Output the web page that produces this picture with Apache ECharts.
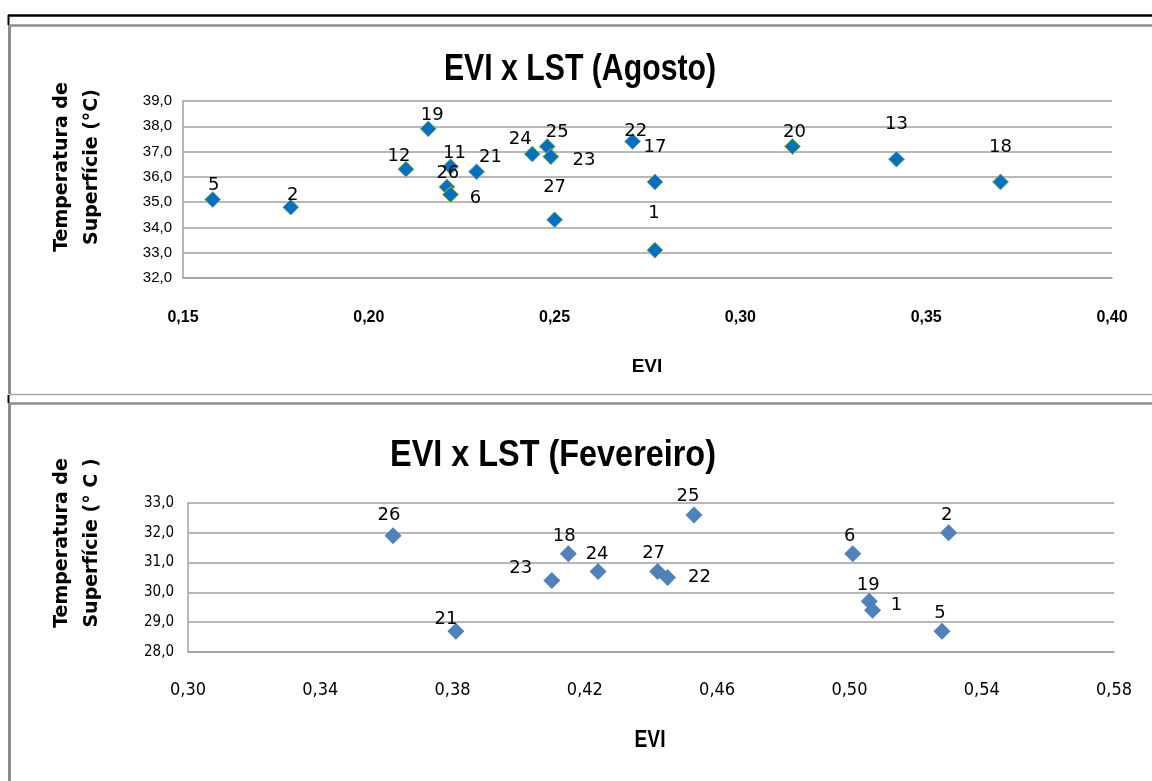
<!DOCTYPE html>
<html>
<head>
<meta charset="utf-8">
<script src="https://cdn.jsdelivr.net/npm/echarts@6/dist/echarts.min.js"></script>
<style>
html,body{margin:0;padding:0;background:#fff;}
#chart{width:1152px;height:781px;}
</style>
</head>
<body>
<div id="chart"></div>
<script>
// ---- Data: August (Agosto) ----
const agoIds = [5, 2, 12, 19, 11, 26, 6, 21, 24, 25, 23, 27, 22, 17, 1, 20, 13, 18];
const agoEvi = [0.158, 0.179, 0.210, 0.216, 0.222, 0.221, 0.222, 0.229, 0.244, 0.248, 0.249, 0.250, 0.271, 0.277, 0.277, 0.314, 0.342, 0.370];
const agoLst = [35.1, 34.8, 36.3, 37.9, 36.4, 35.6, 35.3, 36.2, 36.9, 37.2, 36.8, 34.3, 37.4, 35.8, 33.1, 37.2, 36.7, 35.8];

// ---- Data: February (Fevereiro) ----
const fevIds = [26, 21, 23, 18, 24, 27, 22, 25, 6, 2, 19, 1, 5];
const fevEvi = [0.362, 0.381, 0.410, 0.415, 0.424, 0.442, 0.445, 0.453, 0.501, 0.530, 0.506, 0.507, 0.528];
const fevLst = [31.9, 28.7, 30.4, 31.3, 30.7, 30.7, 30.5, 32.6, 31.3, 32.0, 29.7, 29.4, 28.7];

// ---- Axis tick settings ----
const agoXTicks = {min: 0.15, max: 0.40, interval: 0.05};
const agoYTicks = {min: 32, max: 39, interval: 1};
const fevXTicks = {min: 0.30, max: 0.58, interval: 0.04};
const fevYTicks = {min: 28, max: 33, interval: 1};

// ---- Label placement (style only: pixel offsets of each point's label) ----
const agoLabelOffset = {5:[1,-14],2:[2,-12],12:[-7,-13],19:[4,-13],11:[4,-13],26:[1,-14],6:[25,4],21:[14,-14],
  24:[-12,-15],25:[10,-14],23:[33,4],27:[0,-33],22:[3,-10],17:[0,-35],1:[-1,-37],20:[2,-14],13:[0,-35],18:[0,-35]};
const fevLabelOffset = {26:[-4,-20],21:[-10,-12],23:[-31,-12],18:[-4,-17],24:[-1,-17],27:[-4,-18],22:[32,0],
  25:[-6,-19],6:[-3,-17],2:[-2,-17],19:[-1,-16],1:[24,-5],5:[-2,-18]};

function comma(v, d){ return v.toFixed(d).replace('.', ','); }

function buildData(ids, xs, ys, offsets){
  return ids.map((id, i) => ({
    value: [xs[i], ys[i]],
    name: String(id),
    label: {offset: offsets[id] || [0, -16]}
  }));
}

const gridColor = '#a0a0a0';
const chart = echarts.init(document.getElementById('chart'), null, {renderer: 'canvas'});

function xAxisCfg(gi, t, font){
  return {
    type: 'value', gridIndex: gi, min: t.min, max: t.max, interval: t.interval,
    axisLine: {show: true, onZero: false, lineStyle: {color: gridColor, width: 1.5}},
    axisTick: {show: false},
    splitLine: {show: false},
    axisLabel: Object.assign({margin: 32, color: '#000', formatter: v => comma(v, 2)}, font)
  };
}
function yAxisCfg(gi, t, font){
  return {
    type: 'value', gridIndex: gi, min: t.min, max: t.max, interval: t.interval,
    axisLine: {show: true, lineStyle: {color: gridColor, width: 1.5}},
    axisTick: {show: false},
    splitLine: {show: true, lineStyle: {color: gridColor, width: 1.5}},
    axisLabel: Object.assign({margin: 11, color: '#000', formatter: v => comma(v, 1)}, font)
  };
}

const labelFont = {fontFamily: 'DejaVu Sans', fontSize: 18, color: '#000'};
const condensed = "'DejaVu Sans Condensed', 'Liberation Sans', sans-serif";

const option = {
  animation: false,
  backgroundColor: '#fff',
  grid: [
    {left: 183, top: 101, width: 929, height: 177},
    {left: 188, top: 503, width: 926, height: 149}
  ],
  xAxis: [
    xAxisCfg(0, agoXTicks, {fontFamily: 'Liberation Sans', fontSize: 16, fontWeight: 'bold'}),
    xAxisCfg(1, fevXTicks, {fontFamily: condensed, fontSize: 18, margin: 29})
  ],
  yAxis: [
    yAxisCfg(0, agoYTicks, {fontFamily: 'Liberation Sans', fontSize: 15}),
    yAxisCfg(1, fevYTicks, {fontFamily: condensed, fontSize: 15, margin: 14})
  ],
  series: [
    {
      type: 'scatter', xAxisIndex: 0, yAxisIndex: 0, symbol: 'diamond', symbolSize: 16,
      itemStyle: {color: '#0070c0', borderColor: '#9bbb59', borderWidth: 1, opacity: 1},
      label: Object.assign({show: true, position: 'inside', formatter: p => p.name}, labelFont),
      data: buildData(agoIds, agoEvi, agoLst, agoLabelOffset)
    },
    {
      type: 'scatter', xAxisIndex: 1, yAxisIndex: 1, symbol: 'diamond', symbolSize: 17,
      itemStyle: {color: '#4f81bd', opacity: 1},
      label: Object.assign({show: true, position: 'inside', formatter: p => p.name}, labelFont),
      data: buildData(fevIds, fevEvi, fevLst, fevLabelOffset)
    }
  ],
  graphic: [
    // frame lines
    {type: 'line', shape: {x1: 8, y1: 15.5, x2: 1152, y2: 15.5}, style: {stroke: '#000', lineWidth: 2.5}},
    {type: 'line', shape: {x1: 8.5, y1: 15, x2: 8.5, y2: 25}, style: {stroke: '#000', lineWidth: 2}},
    {type: 'line', shape: {x1: 9, y1: 25.5, x2: 1152, y2: 25.5}, style: {stroke: '#8c8c8c', lineWidth: 2.5}},
    {type: 'line', shape: {x1: 9.5, y1: 25, x2: 9.5, y2: 394}, style: {stroke: '#8c8c8c', lineWidth: 3}},
    {type: 'line', shape: {x1: 9, y1: 394.5, x2: 1152, y2: 394.5}, style: {stroke: '#a8a8a8', lineWidth: 1.5}},
    {type: 'line', shape: {x1: 8.5, y1: 395, x2: 8.5, y2: 403}, style: {stroke: '#000', lineWidth: 2}},
    {type: 'line', shape: {x1: 9, y1: 403.5, x2: 1152, y2: 403.5}, style: {stroke: '#8c8c8c', lineWidth: 2.5}},
    {type: 'line', shape: {x1: 9.5, y1: 403, x2: 9.5, y2: 781}, style: {stroke: '#8c8c8c', lineWidth: 3}},
    // titles
    {type: 'text', x: 580, y: 70, scaleX: 0.84,
     style: {text: 'EVI x LST (Agosto)', fontFamily: 'Liberation Sans', fontSize: 36, fontWeight: 'bold',
             fill: '#000', align: 'center', verticalAlign: 'middle'}},
    {type: 'text', x: 553, y: 456, scaleX: 0.9,
     style: {text: 'EVI x LST (Fevereiro)', fontFamily: 'Liberation Sans', fontSize: 36, fontWeight: 'bold',
             fill: '#000', align: 'center', verticalAlign: 'middle'}},
    // axis names
    {type: 'text', x: 77, y: 167, rotation: Math.PI / 2,
     style: {text: 'Temperatura de\nSuperfície (°C)', fontFamily: 'DejaVu Sans', fontSize: 19, fontWeight: 'bold',
             fill: '#000', align: 'center', verticalAlign: 'middle', lineHeight: 30}},
    {type: 'text', x: 77, y: 543, rotation: Math.PI / 2,
     style: {text: 'Temperatura de\nSuperfície (° C )', fontFamily: 'DejaVu Sans', fontSize: 19, fontWeight: 'bold',
             fill: '#000', align: 'center', verticalAlign: 'middle', lineHeight: 30}},
    {type: 'text', x: 647, y: 367,
     style: {text: 'EVI', fontFamily: 'Liberation Sans', fontSize: 19, fontWeight: 'bold',
             fill: '#000', align: 'center', verticalAlign: 'middle'}},
    {type: 'text', x: 650, y: 740, scaleX: 0.8,
     style: {text: 'EVI', fontFamily: 'Liberation Sans', fontSize: 24, fontWeight: 'bold',
             fill: '#000', align: 'center', verticalAlign: 'middle'}}
  ]
};
chart.setOption(option);
</script>
</body>
</html>
